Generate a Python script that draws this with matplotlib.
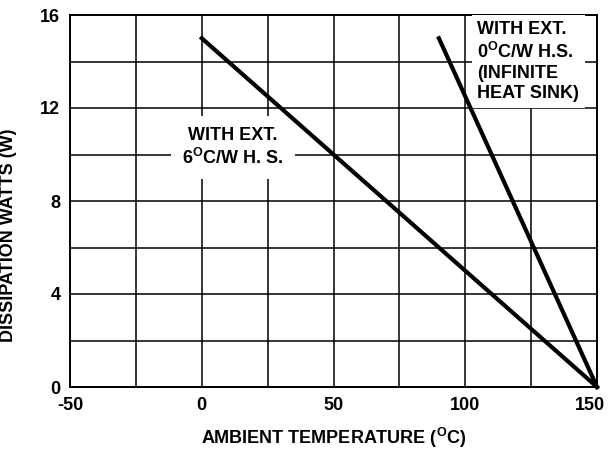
import matplotlib.pyplot as plt
from matplotlib.transforms import ScaledTranslation

plt.rcParams['font.family'] = ['Liberation Sans', 'DejaVu Sans']
plt.rcParams['font.weight'] = 'bold'
plt.rcParams['axes.labelweight'] = 'bold'
plt.rcParams['axes.unicode_minus'] = False
plt.rcParams['mathtext.fontset'] = 'custom'
plt.rcParams['mathtext.rm'] = 'Liberation Sans:bold'
plt.rcParams['mathtext.bf'] = 'Liberation Sans:bold'
plt.rcParams['mathtext.default'] = 'rm'

# データ
temp_6cw = [0, 150]      # 外部放熱板 6°C/W
watts_6cw = [15, 0]
temp_0cw = [90, 150]     # 無限大放熱板
watts_0cw = [15, 0]
xticks = [-50, 0, 50, 100, 150]
yticks = [0, 4, 8, 12, 16]

fig = plt.figure(figsize=(6.08, 4.5), dpi=100)
ax = fig.add_axes([70/608, 1-387/450, 527/608, 372/450])

ax.set_xlim(-50, 150)
ax.set_ylim(0, 16)
ax.set_xticks(xticks)
ax.set_xticks(range(-25, 150, 50), minor=True)
ax.set_yticks(yticks)
ax.set_yticks(range(2, 16, 4), minor=True)
ax.grid(True, which='both', color='black', linewidth=1.1)
ax.tick_params(which='both', length=0, labelsize=13, pad=7)
for s in ax.spines.values():
    s.set_linewidth(1.4)

ax.plot(temp_6cw, watts_6cw, color='black', linewidth=3, clip_on=False, zorder=5)
ax.plot(temp_0cw, watts_0cw, color='black', linewidth=3, clip_on=False, zorder=5)

ax.text(11.9, 10.3, 'WITH EXT.\n6$^{O}$C/W H. S.', ha='center', va='center',
        fontsize=13, linespacing=1.2, zorder=4,
        bbox=dict(facecolor='white', edgecolor='none', pad=8))
ax.text(104.5, 15.75, 'WITH EXT.\n0$^{O}$C/W H.S.\n(INFINITE\nHEAT SINK)', ha='left', va='top',
        fontsize=13, linespacing=1.25, zorder=4,
        bbox=dict(facecolor='white', edgecolor='none', pad=4))

ax.set_xlabel('AMBIENT TEMPERATURE ($^{O}$C)', fontsize=13, labelpad=9)
ax.set_ylabel('DISSIPATION WATTS (W)', fontsize=13)
ax.yaxis.set_label_coords(-0.10, 0.407)

fig.canvas.draw()
last = ax.get_xticklabels()[-1]
last.set_transform(last.get_transform() + ScaledTranslation(-5/72, 0, fig.dpi_scale_trans))

plt.savefig('out.png', dpi=100)
